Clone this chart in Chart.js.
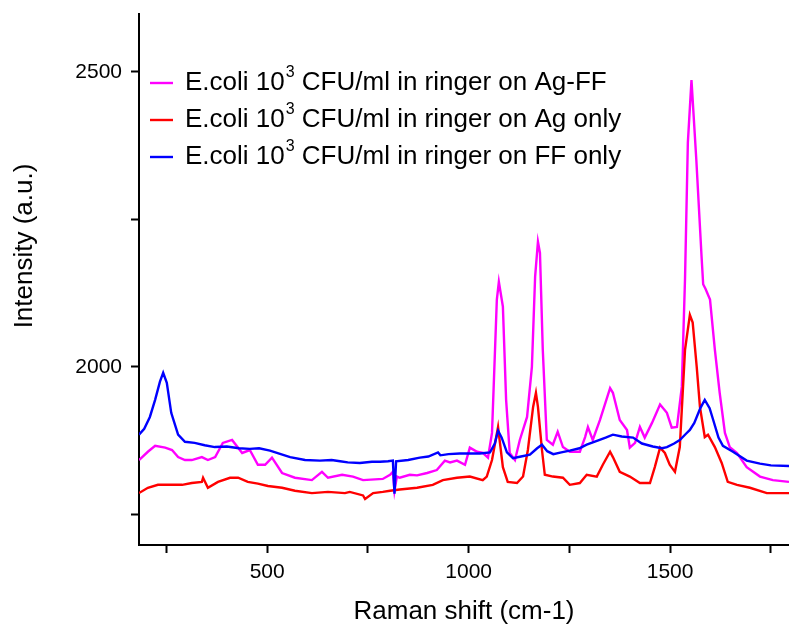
<!DOCTYPE html>
<html>
<head>
<meta charset="utf-8">
<script src="https://cdn.jsdelivr.net/npm/chart.js@4.4.1/dist/chart.umd.min.js"></script>
<style>
  html, body { margin: 0; padding: 0; background: #fff; }
</style>
</head>
<body>
<canvas id="ramanChart" width="789" height="627"></canvas>
<script>
// Raman spectra (x in cm-1, y in a.u.)
const agffX = [182,204,222,247,264,279,296,313,338,353,371,390,413,438,457,477,495,512,537,569,611,636,651,686,713,738,787,805,812,816,822,829,854,872,897,921,941,954,971,991,1003,1021,1035,1048,1058,1070,1075,1085,1093,1102,1115,1127,1145,1157,1165,1172,1177,1184,1194,1209,1221,1234,1251,1276,1289,1296,1308,1326,1351,1358,1375,1393,1400,1413,1425,1437,1455,1475,1492,1504,1517,1529,1537,1544,1553,1565,1578,1582,1588,1599,1611,1623,1636,1648,1666,1690,1723,1755,1795];
const agffY = [1842,1856,1866,1863,1859,1847,1842,1842,1847,1842,1847,1871,1876,1854,1859,1834,1834,1846,1820,1812,1808,1822,1812,1817,1814,1808,1810,1817,1822,1790,1814,1812,1817,1816,1820,1825,1841,1838,1841,1834,1863,1856,1854,1846,1888,2114,2144,2102,1944,1854,1842,1876,1915,2000,2153,2212,2193,2029,1876,1868,1890,1864,1856,1856,1881,1898,1876,1910,1964,1956,1910,1893,1863,1871,1898,1880,1905,1936,1922,1897,1898,1966,2150,2380,2486,2351,2187,2140,2132,2114,2029,1956,1888,1864,1854,1830,1814,1808,1805];

const agX = [182,204,229,254,289,313,338,341,353,378,408,428,452,477,502,537,569,611,651,693,705,738,743,763,787,805,829,872,911,936,971,1003,1035,1045,1058,1073,1085,1097,1120,1135,1147,1160,1167,1172,1182,1189,1209,1234,1251,1276,1293,1318,1333,1351,1358,1375,1400,1425,1450,1462,1475,1487,1499,1512,1524,1537,1549,1556,1566,1574,1586,1594,1611,1628,1643,1666,1698,1740,1795];
const agY = [1786,1795,1800,1800,1800,1803,1805,1812,1795,1805,1812,1812,1805,1802,1798,1795,1790,1786,1788,1786,1788,1782,1776,1786,1788,1790,1792,1795,1800,1808,1812,1814,1808,1814,1842,1898,1830,1805,1803,1814,1859,1932,1956,1932,1859,1817,1814,1812,1800,1803,1817,1814,1834,1856,1847,1822,1814,1803,1803,1830,1863,1854,1834,1822,1864,2029,2088,2075,2000,1932,1881,1885,1864,1837,1805,1800,1795,1786,1786];

const ffX = [182,195,209,222,234,242,251,262,279,296,320,345,370,400,430,457,480,507,530,557,594,631,660,681,700,730,760,780,800,812,816,820,850,879,900,924,930,950,978,1000,1028,1053,1065,1073,1082,1095,1110,1130,1152,1170,1182,1195,1210,1230,1251,1275,1293,1320,1340,1358,1380,1408,1430,1457,1480,1492,1510,1524,1540,1549,1560,1575,1586,1598,1606,1620,1631,1656,1690,1723,1750,1795];
const ffY = [1885,1895,1915,1944,1975,1990,1973,1922,1885,1873,1871,1867,1864,1865,1862,1861,1862,1858,1853,1847,1842,1841,1842,1840,1838,1837,1839,1839,1840,1841,1785,1840,1842,1846,1848,1855,1850,1852,1853,1853,1853,1855,1870,1892,1880,1855,1845,1848,1851,1862,1868,1857,1852,1855,1858,1862,1868,1875,1880,1885,1882,1880,1870,1865,1862,1864,1870,1876,1887,1893,1905,1930,1944,1930,1912,1880,1866,1856,1841,1836,1833,1832];

const seriesLabels = [
  'E.coli 10³ CFU/ml in ringer on Ag-FF',
  'E.coli 10³ CFU/ml in ringer on Ag only',
  'E.coli 10³ CFU/ml in ringer on FF only'
];

const xTicks = [250, 500, 750, 1000, 1250, 1500, 1750];
const xLabels = [500, 1000, 1500];
const yTicks = [1750, 2000, 2250, 2500];
const yLabels = [2000, 2500];

const FONT = 'Liberation Sans, Arial, sans-serif';

function toPoints(xs, ys) {
  return xs.map((x, i) => ({ x: x, y: ys[i] }));
}

// y title and in-plot legend (the legend has a superscript)
const decorPlugin = {
  id: 'decor',
  afterDraw(chart) {
    const ctx = chart.ctx;
    ctx.save();
    ctx.fillStyle = '#000';
    ctx.font = '26px ' + FONT;
    ctx.textAlign = 'center';
    ctx.textBaseline = 'middle';
    ctx.translate(25, 246);
    ctx.rotate(-Math.PI / 2);
    ctx.fillText('Intensity (a.u.)', 0, 0);
    ctx.restore();

    ctx.save();
    const rows = [83, 120, 157];
    chart.data.datasets.forEach((ds, i) => {
      const y = rows[i];
      ctx.strokeStyle = ds.borderColor;
      ctx.lineWidth = 2.4;
      ctx.beginPath();
      ctx.moveTo(150, y);
      ctx.lineTo(173, y);
      ctx.stroke();

      const parts = ds.label.split('³');
      let x = 185;
      ctx.fillStyle = '#000';
      ctx.textAlign = 'left';
      ctx.textBaseline = 'middle';
      ctx.font = '26px ' + FONT;
      ctx.fillText(parts[0], x, y);
      x += ctx.measureText(parts[0]).width + 1;
      ctx.font = '16px ' + FONT;
      ctx.fillText('3', x, y - 10);
      x += ctx.measureText('3').width;
      ctx.font = '26px ' + FONT;
      ctx.fillText(parts[1], x, y);
    });
    ctx.restore();
  }
};

const ctx = document.getElementById('ramanChart').getContext('2d');
const ramanChart = new Chart(ctx, {
  type: 'line',
  data: {
    datasets: [{
      label: seriesLabels[0],
      data: toPoints(agffX, agffY),
      borderColor: '#ff00ff',
      borderWidth: 2.4,
      pointRadius: 0,
      tension: 0,
      order: 2
    }, {
      label: seriesLabels[1],
      data: toPoints(agX, agY),
      borderColor: '#ff0000',
      borderWidth: 2.4,
      pointRadius: 0,
      tension: 0,
      order: 1
    }, {
      label: seriesLabels[2],
      data: toPoints(ffX, ffY),
      borderColor: '#0000ff',
      borderWidth: 2.4,
      pointRadius: 0,
      tension: 0,
      order: 0
    }]
  },
  options: {
    responsive: false,
    animation: false,
    layout: { padding: { top: 14, right: 0, left: 0, bottom: 0 } },
    plugins: {
      legend: { display: false },
      tooltip: { enabled: false }
    },
    scales: {
      x: {
        type: 'linear',
        min: 182,
        max: 1795,
        afterBuildTicks: s => { s.ticks = xTicks.map(v => ({ value: v })); },
        afterFit: s => { s.height = 82; s.paddingLeft = 0; s.paddingRight = 0; },
        ticks: {
          callback: v => xLabels.includes(v) ? String(v) : '',
          font: { size: 21, family: FONT },
          color: '#000',
          padding: 7,
          maxRotation: 0,
          autoSkip: false
        },
        grid: { drawOnChartArea: false, drawTicks: true, tickLength: 8, tickColor: '#000', tickWidth: 2 },
        border: { display: true, color: '#000', width: 2 },
        title: {
          display: true,
          text: 'Raman shift (cm-1)',
          font: { size: 26, family: FONT },
          color: '#000',
          padding: { top: 0, bottom: 0 }
        }
      },
      y: {
        min: 1698,
        max: 2598,
        afterBuildTicks: s => { s.ticks = yTicks.map(v => ({ value: v })); },
        afterFit: s => { s.width = 139; s.paddingTop = 0; s.paddingBottom = 0; },
        ticks: {
          callback: v => yLabels.includes(v) ? String(v) : '',
          font: { size: 21, family: FONT },
          color: '#000',
          padding: 9,
          autoSkip: false
        },
        grid: { drawOnChartArea: false, drawTicks: true, tickLength: 8, tickColor: '#000', tickWidth: 2 },
        border: { display: true, color: '#000', width: 2 }
      }
    }
  },
  plugins: [decorPlugin]
});
</script>
</body>
</html>
